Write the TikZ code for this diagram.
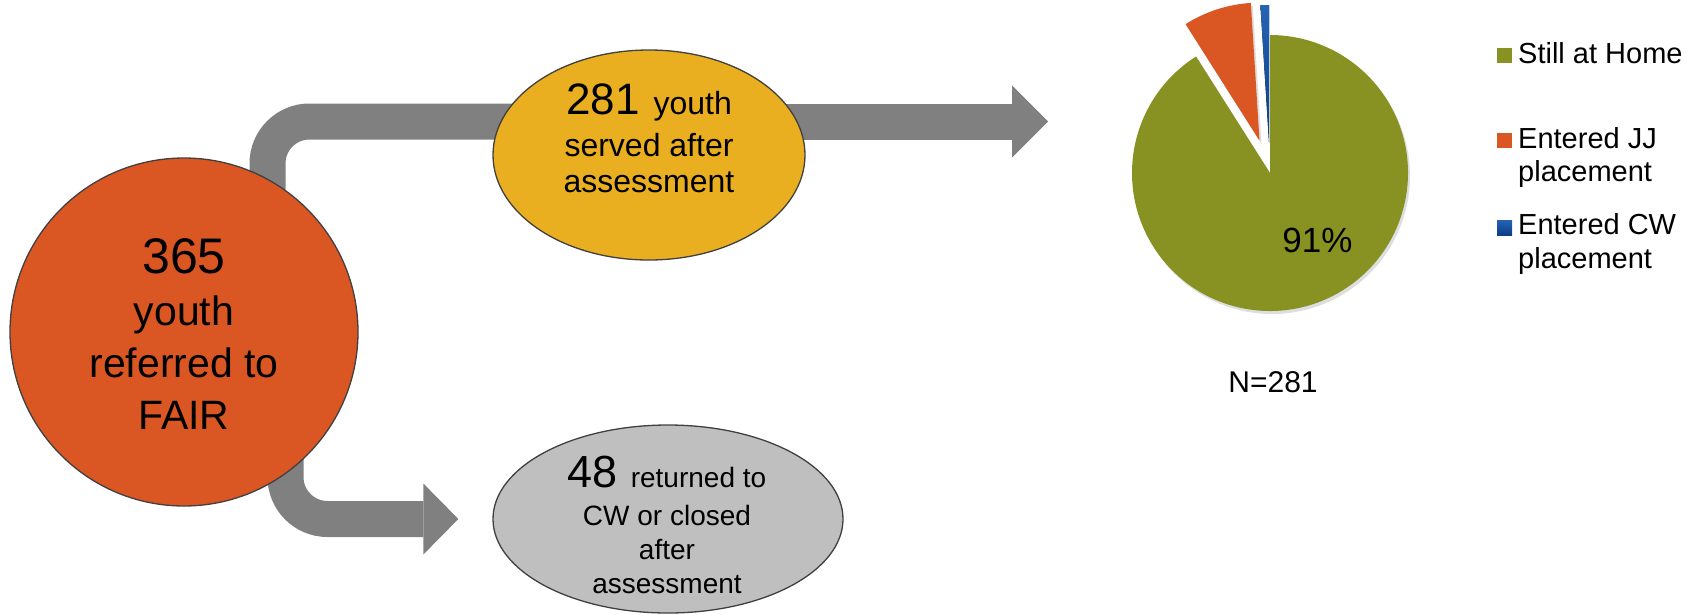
\documentclass[tikz,border=0pt]{standalone}
\usepackage{fontspec}
\setmainfont{Liberation Sans}
\usetikzlibrary{backgrounds,shapes.geometric}
\definecolor{cOrange}{HTML}{DA5623}
\definecolor{cYellow}{HTML}{E9AF20}
\definecolor{cGrey}{HTML}{BFBFBF}
\definecolor{cArrow}{HTML}{808080}
\definecolor{cOutline}{HTML}{404040}
\definecolor{cGreen}{HTML}{879222}
\definecolor{cBlueTop}{HTML}{2563B5}
\definecolor{cBlueBot}{HTML}{0B3E85}
\begin{document}
\begin{tikzpicture}[x=1pt,y=-1pt,
  bubble/.style={draw=cOutline, line width=1.3pt, inner sep=0pt},
  band/.style={draw=cArrow, line width=36pt, rounded corners=42pt},
  headfill/.style={fill=cArrow},
  bigtxt/.style={align=center, text=black, inner sep=0pt},
  legtxt/.style={font=\fontsize{29}{33.5}\selectfont, align=left, inner sep=0pt},
  legbox/.style={minimum size=15pt, inner sep=0pt},
  pieshadow/.style={fill=black, opacity=0.13}
]
\useasboundingbox (0,0) rectangle (1698,614);

% main bubbles
\node[bubble, circle, fill=cOrange, minimum size=348pt] (referred) at (184,332) {};
\node[bubble, ellipse, fill=cYellow, minimum width=312pt, minimum height=210pt] (served) at (649,155) {};
\node[bubble, ellipse, fill=cGrey, minimum width=350pt, minimum height=188pt] (returned) at (668,519) {};

\node[bigtxt, font=\fontsize{41}{52}\selectfont] (referredtext) at (184,334)
  {{\fontsize{50}{52}\selectfont 365}\\youth\\referred to\\FAIR};
\node[bigtxt, font=\fontsize{32}{36}\selectfont] (servedtext) at (649,138)
  {{\fontsize{44}{36}\selectfont 281}\hspace{14pt}youth\\[6pt]served after\\assessment};
\node[bigtxt, font=\fontsize{28}{34}\selectfont] (returnedtext) at (667,524.5)
  {{\fontsize{45}{34}\selectfont 48}\hspace{13pt}returned to\\[4pt]CW or closed\\after\\assessment};

% connectors
\begin{scope}[on background layer]
  \draw[band] ([xshift=83.5pt,yshift=80pt]referred.center) |- ([yshift=33.5pt]served.center);
  \coordinate (tipA) at (1048,121.5);
  \draw[band, rounded corners=0pt] ([yshift=33.5pt]served.center) -- ([xshift=-36pt]tipA);
  \fill[headfill] ([xshift=-36pt,yshift=36pt]tipA) -- (tipA) -- ([xshift=-36pt,yshift=-36pt]tipA) -- cycle;
  \coordinate (tipB) at ([xshift=-34pt]returned.west);
  \draw[band] ([xshift=101.5pt]referred.center) |- ([xshift=-35pt]tipB);
  \fill[headfill] ([xshift=-35pt,yshift=35.5pt]tipB) -- (tipB) -- ([xshift=-35pt,yshift=-35.5pt]tipB) -- cycle;
\end{scope}

% pie
\begin{scope}[shift={(1270,173)}, x=1pt, y=1pt]
  \begin{scope}[shift={(2,-3)}]
    \fill[pieshadow] (0,0) -- (122.4:138) arc[start angle=122.4, end angle=450, radius=138] -- cycle;
  \end{scope}
  \fill[cGreen] (0,0) -- (122.4:138) arc[start angle=122.4, end angle=450, radius=138] -- cycle;
  \begin{scope}[shift={(108:34)}]
    \begin{scope}[shift={(2,-3)}]
      \fill[pieshadow] (0,0) -- (93.6:138) arc[start angle=93.6, end angle=122.4, radius=138] -- cycle;
    \end{scope}
    \fill[cOrange] (0,0) -- (93.6:138) arc[start angle=93.6, end angle=122.4, radius=138] -- cycle;
  \end{scope}
  \begin{scope}[shift={(91.8:30)}]
    \fill[top color=cBlueTop, bottom color=cBlueBot] (0,0) -- (90:138) arc[start angle=90, end angle=93.6, radius=138] -- cycle;
  \end{scope}
\end{scope}
\node[font=\fontsize{35}{40}\selectfont, anchor=base, inner sep=0pt] (pct) at (1317.5,252) {91\%};
\node[font=\fontsize{30}{36}\selectfont, anchor=base, inner sep=0pt] (ncount) at (1273,392) {N=281};

% legend
\node[legbox, fill=cGreen] (keyhome) at (1504.5,55) {};
\node[legtxt, anchor=base west] (keyhometext) at (1518,63) {Still at Home};
\node[legbox, fill=cOrange] (keyjj) at (1504.5,140.5) {};
\node[legtxt, anchor=west] (keyjjtext) at (1518,157.5) {Entered JJ\\placement};
\node[legbox, top color=cBlueTop, bottom color=cBlueBot] (keycw) at (1504.5,227.5) {};
\node[legtxt, anchor=west] (keycwtext) at (1518,244) {Entered CW\\placement};
\end{tikzpicture}
\end{document}
